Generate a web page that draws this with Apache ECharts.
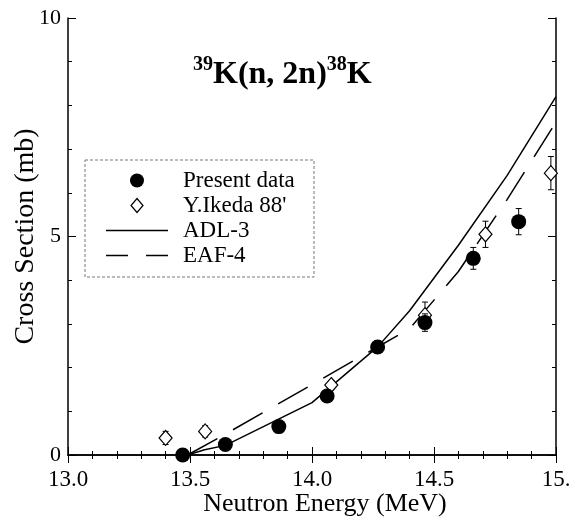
<!DOCTYPE html>
<html>
<head>
<meta charset="utf-8">
<script src="https://cdn.jsdelivr.net/npm/echarts@6/dist/echarts.min.js"></script>
<style>
  html, body { margin: 0; padding: 0; background: #fff; }
  #chart { width: 577px; height: 524px; }
</style>
</head>
<body>
<div id="chart"></div>
<script>
// 数据
const energyPresent = [13.47, 13.645, 13.864, 14.062, 14.269, 14.463, 14.661, 14.847];
const sigmaPresent = [0.0, 0.24, 0.65, 1.35, 2.47, 3.03, 4.5, 5.34];
const errPresent = [0.05, 0.05, 0.05, 0.08, 0.08, 0.2, 0.25, 0.3];

const energyIkeda = [13.40, 13.562, 14.079, 14.463, 14.711, 14.979];
const sigmaIkeda = [0.39, 0.54, 1.6, 3.2, 5.05, 6.45];
const errIkeda = [0.15, 0.13, 0.1, 0.3, 0.3, 0.38];

const energyADL = [13.49, 13.56, 13.645, 14.0, 14.27, 14.4, 14.6, 14.8, 15.0];
const sigmaADL = [0.0, 0.12, 0.22, 1.2, 2.48, 3.3, 4.8, 6.4, 8.2];

const energyEAF = [13.49, 13.63, 14.4, 14.6, 14.8, 15.0];
const sigmaEAF = [0.0, 0.43, 2.89, 4.2, 5.85, 7.62];

const xTickLabels = ['13.0', '13.5', '14.0', '14.5', '15.'];
const yTickLabels = ['0', '5', '10'];

const serif = '"Liberation Serif", "Times New Roman", serif';

const pairs = (xs, ys) => xs.map((x, i) => [x, ys[i]]);

// 误差棒
function errorBars(xs, ys, es, z) {
  return {
    type: 'custom',
    z: z,
    silent: true,
    data: xs.map((x, i) => [x, ys[i] - es[i], ys[i] + es[i]]),
    encode: { x: 0, y: [1, 2] },
    renderItem: function (params, api) {
      const lo = api.coord([api.value(0), api.value(1)]);
      const hi = api.coord([api.value(0), api.value(2)]);
      const cap = 3;
      const st = { stroke: '#000', lineWidth: 1 };
      return {
        type: 'group',
        children: [
          { type: 'line', shape: { x1: lo[0], y1: lo[1], x2: hi[0], y2: hi[1] }, style: st },
          { type: 'line', shape: { x1: lo[0] - cap, y1: lo[1], x2: lo[0] + cap, y2: lo[1] }, style: st },
          { type: 'line', shape: { x1: hi[0] - cap, y1: hi[1], x2: hi[0] + cap, y2: hi[1] }, style: st }
        ]
      };
    }
  };
}

const axisCommon = {
  type: 'value',
  splitLine: { show: false },
  axisLine: { show: true, lineStyle: { color: '#000', width: 1.5 } },
  axisTick: { show: true, inside: true, length: 8, lineStyle: { color: '#000', width: 1 } },
  minorTick: { show: true, splitNumber: 5, length: 4, lineStyle: { color: '#000', width: 1 } }
};

const chart = echarts.init(document.getElementById('chart'));
chart.setOption({
  animation: false,
  backgroundColor: '#fff',
  grid: { left: 68, right: 21, top: 18, bottom: 69, containLabel: false, outerBoundsMode: 'none' },
  title: {
    left: 188,
    top: 50,
    text: '{s|39}{m|K(n, 2n)}{s|38}{m|K}',
    textStyle: {
      rich: {
        m: { fontFamily: serif, fontSize: 32, fontWeight: 'bold', color: '#000', lineHeight: 36, verticalAlign: 'bottom' },
        s: { fontFamily: serif, fontSize: 20, fontWeight: 'bold', color: '#000', lineHeight: 26, verticalAlign: 'top' }
      }
    }
  },
  legend: {
    orient: 'vertical',
    left: 101,
    top: 164,
    itemWidth: 62,
    itemHeight: 14,
    itemGap: 2,
    symbolKeepAspect: true,
    textStyle: { fontFamily: serif, fontSize: 23, color: '#000', lineHeight: 22, padding: [0, 0, 0, 10] },
    data: [
      { name: 'Present data', icon: 'circle', itemStyle: { color: '#000', opacity: 1 } },
      { name: "Y.Ikeda 88'", icon: 'path://M6,0L12,7L6,14L0,7Z',
        itemStyle: { color: '#fff', borderColor: '#000', borderWidth: 1.2, opacity: 1 } },
      { name: 'ADL-3', icon: 'path://M0,0H62V1.5H0Z', itemStyle: { color: '#000', borderWidth: 0 } },
      { name: 'EAF-4', icon: 'path://M0,0H22V1.5H0ZM40,0H62V1.5H40Z', itemStyle: { color: '#000', borderWidth: 0 } }
    ]
  },
  graphic: [
    {
      type: 'rect',
      shape: { x: 85, y: 160, width: 229, height: 117 },
      style: { fill: 'none', stroke: '#777', lineWidth: 1, lineDash: [3, 2] },
      z: 1
    }
  ],
  xAxis: [
    Object.assign({}, axisCommon, {
      min: 13, max: 15, interval: 0.5,
      name: 'Neutron Energy (MeV)',
      nameLocation: 'middle',
      nameGap: 36,
      nameMoveOverlap: false,
      nameTextStyle: { fontFamily: serif, fontSize: 26, color: '#000', padding: [0, 0, 0, 26] },
      axisLabel: {
        margin: 13, fontFamily: serif, fontSize: 23, color: '#000',
        formatter: (v) => xTickLabels[Math.round((v - 13) / 0.5)]
      }
    }),
    Object.assign({}, axisCommon, {
      position: 'top', min: 13, max: 15, interval: 0.5,
      axisLabel: { show: false }
    })
  ],
  yAxis: [
    Object.assign({}, axisCommon, {
      min: 0, max: 10, interval: 5,
      name: 'Cross Section (mb)',
      nameLocation: 'middle',
      nameGap: 28,
      nameMoveOverlap: false,
      nameTextStyle: { fontFamily: serif, fontSize: 28, color: '#000' },
      axisLabel: {
        margin: 7, fontFamily: serif, fontSize: 22, color: '#000',
        formatter: (v) => yTickLabels[Math.round(v / 5)]
      }
    }),
    Object.assign({}, axisCommon, {
      position: 'right', min: 0, max: 10, interval: 5,
      axisLabel: { show: false }
    })
  ],
  series: [
    {
      name: 'ADL-3', type: 'line', data: pairs(energyADL, sigmaADL),
      symbol: 'none', z: 3,
      lineStyle: { color: '#000', width: 1.5, type: 'solid' },
      itemStyle: { color: '#000' }
    },
    {
      name: 'EAF-4', type: 'line', data: pairs(energyEAF, sigmaEAF),
      symbol: 'none', z: 3,
      lineStyle: { color: '#000', width: 1.5, type: [34, 18] },
      itemStyle: { color: '#000' }
    },
    errorBars(energyIkeda, sigmaIkeda, errIkeda, 4),
    {
      name: "Y.Ikeda 88'", type: 'scatter', data: pairs(energyIkeda, sigmaIkeda),
      symbol: 'diamond', symbolSize: [13, 15], z: 5,
      itemStyle: { color: '#fff', borderColor: '#000', borderWidth: 1.2, opacity: 1 }
    },
    errorBars(energyPresent, sigmaPresent, errPresent, 6),
    {
      name: 'Present data', type: 'scatter', data: pairs(energyPresent, sigmaPresent),
      symbol: 'circle', symbolSize: 15, z: 7,
      itemStyle: { color: '#000', opacity: 1 }
    }
  ]
});
</script>
</body>
</html>
